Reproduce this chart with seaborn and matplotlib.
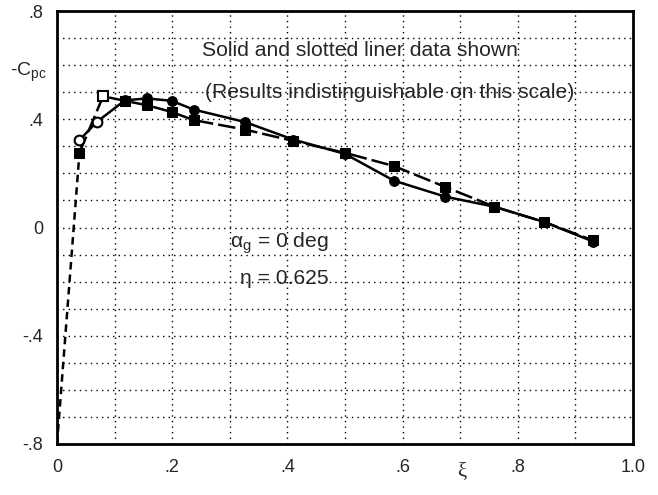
import matplotlib
matplotlib.use("Agg")
import matplotlib.pyplot as plt
import seaborn as sns
import numpy as np
import pandas as pd

# ---- data ----
xi_circ = [0.039, 0.069, 0.118, 0.156, 0.199, 0.237, 0.326, 0.410, 0.500, 0.585, 0.674, 0.759, 0.845, 0.931]
cp_circ = [0.323, 0.390, 0.470, 0.477, 0.468, 0.436, 0.390, 0.325, 0.272, 0.173, 0.114, 0.077, 0.021, -0.052]
xi_sq = [0.039, 0.080, 0.118, 0.156, 0.199, 0.237, 0.326, 0.410, 0.500, 0.585, 0.674, 0.759, 0.845, 0.931]
cp_sq = [0.276, 0.485, 0.468, 0.452, 0.427, 0.397, 0.362, 0.320, 0.276, 0.227, 0.150, 0.077, 0.021, -0.048]
xi_lead = [0.0, 0.039]
cp_lead = [-0.8, 0.276]
x_ticks = [0, 0.2, 0.4, 0.6, 0.8, 1.0]
x_ticklabels = ["0", ".2", ".4", ".6", ".8", "1.0"]
y_ticks = [-0.8, -0.4, 0, 0.4, 0.8]
y_ticklabels = ["-.8", "-.4", "0", ".4", ".8"]

sns.set_theme(style="white")
plt.rcParams['font.family'] = ['Liberation Sans', 'DejaVu Sans']
plt.rcParams['mathtext.fontset'] = 'custom'
plt.rcParams['mathtext.rm'] = 'Liberation Sans'
plt.rcParams['mathtext.it'] = 'Liberation Sans'

fig = plt.figure(figsize=(6.58, 4.95), dpi=100)
ax = fig.add_axes([57/658, 1-444/495, (633-57)/658, (444-11)/495])

df_c = pd.DataFrame({"xi": xi_circ, "cp": cp_circ})
df_s = pd.DataFrame({"xi": xi_sq, "cp": cp_sq})
df_l = pd.DataFrame({"xi": xi_lead, "cp": cp_lead})

sns.lineplot(data=df_l, x="xi", y="cp", ax=ax, color="black", lw=1.8,
             linestyle=(0, (3, 2)), sort=False)
sns.lineplot(data=df_c, x="xi", y="cp", ax=ax, color="black", lw=1.8,
             marker="o", markersize=7, markerfacecolor="black",
             markeredgecolor="black", sort=False)
sns.lineplot(data=df_s, x="xi", y="cp", ax=ax, color="black", lw=1.8,
             linestyle=(0, (7, 2)), marker="s", markersize=7,
             markerfacecolor="black", markeredgecolor="black", sort=False)
# open markers for first points (solid-liner symbols)
ax.plot(xi_circ[:2], cp_circ[:2], "o", ms=7, mfc="white", mec="black", mew=1.5)
ax.plot(xi_sq[1:2], cp_sq[1:2], "s", ms=7, mfc="white", mec="black", mew=1.5)

ax.set_xlim(0, 1.0)
ax.set_ylim(-0.8, 0.8)
ax.set_xticks(x_ticks)
ax.set_xticklabels(x_ticklabels)
ax.set_yticks(y_ticks)
ax.set_yticklabels(y_ticklabels)
ax.set_xticks(np.arange(0, 1.01, 0.1), minor=True)
ax.set_yticks(np.arange(-0.8, 0.81, 0.1), minor=True)
ax.grid(which="both", color="black", linestyle=(0, (1, 3)), linewidth=1.0)
ax.tick_params(axis="both", which="both", length=0, labelsize=13)
ax.tick_params(axis="x", pad=11)
ax.tick_params(axis="y", pad=10)
for s in ax.spines.values():
    s.set_color("black")
    s.set_linewidth(2)
ax.set_xlabel("")
ax.set_ylabel("")

fs = 15.2
ax.text(0.526, 0.655, "Solid and slotted liner data shown", ha="center", va="center", fontsize=fs)
ax.text(0.257, 0.50, "(Results indistinguishable on this scale)", ha="left", va="center", fontsize=fs)
ax.text(0.300, -0.06, r"$\mathrm{\alpha_g}$ = 0 deg", ha="left", va="center", fontsize=fs)
ax.text(0.318, -0.19, "η = 0.625", ha="left", va="center", fontsize=fs)
fig.text(10/658, 1-72/495, r"-C$_{\mathrm{pc}}$", ha="left", va="center", fontsize=14)
fig.text(462/658, 1-472/495, "ξ", ha="center", va="center", fontsize=15,
         family=["Liberation Serif", "DejaVu Serif"])

fig.savefig("out.png", dpi=100)
